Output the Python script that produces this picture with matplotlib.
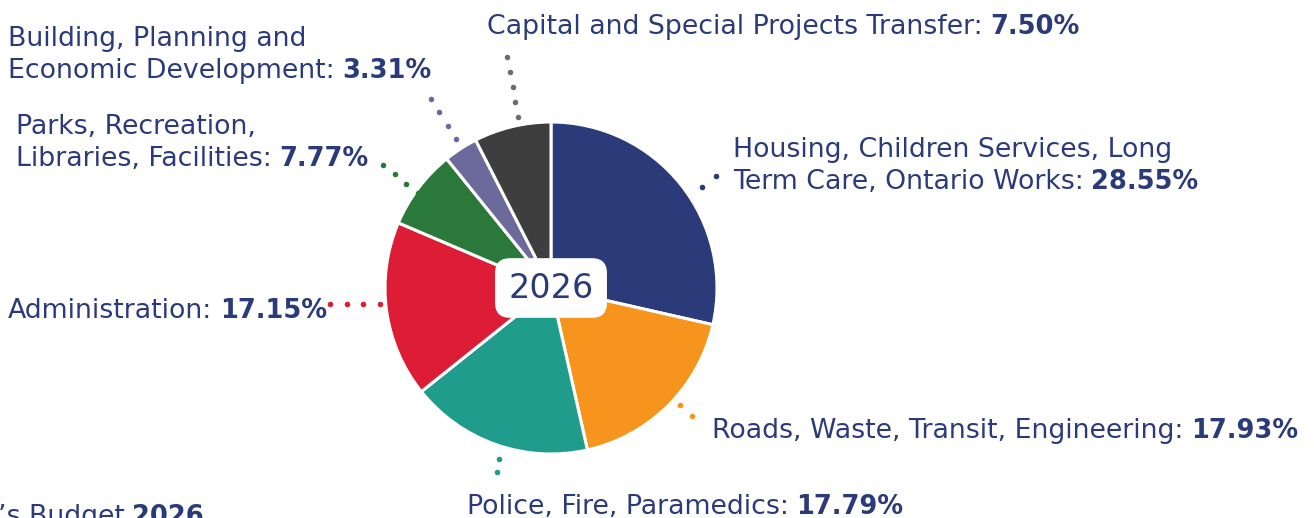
import matplotlib
matplotlib.use("Agg")
import matplotlib.pyplot as plt
import numpy as np

# budget shares, clockwise from 12 o'clock
categories = [
    "Housing, Children Services, Long\nTerm Care, Ontario Works",
    "Roads, Waste, Transit, Engineering",
    "Police, Fire, Paramedics",
    "Administration",
    "Parks, Recreation,\nLibraries, Facilities",
    "Building, Planning and\nEconomic Development",
    "Capital and Special Projects Transfer",
]
shares = [28.55, 17.93, 17.79, 17.15, 7.77, 3.31, 7.50]
pct_labels = ["28.55%", "17.93%", "17.79%", "17.15%", "7.77%", "3.31%", "7.50%"]
year_label = "2026"
footer_text = "\u2019s Budget"

colors = ["#2b3a78", "#f7941d", "#1f9c8c", "#dd1c35", "#2a793a", "#6c6a9a", "#3e3e3e"]
dot_colors = ["#2b3a78", "#f7941d", "#1f9c8c", "#dd1c35", "#2a793a", "#6c6a9a", "#6d6d6d"]
TEXT = "#2b3a78"

W, H = 1314, 518
FS = 19.3      # regular text
FS_B = 18.5    # bold percentages
LS = 32        # px between baselines

plt.rcParams["font.family"] = ["DejaVu Sans"]
fig = plt.figure(figsize=(W / 100, H / 100), dpi=100)
ax = fig.add_axes([0, 0, 1, 1])


def Y(y):
    return H - y


cx, cy, R = 551, 288, 166
ax.pie(shares, colors=colors, startangle=90, counterclock=False,
       center=(cx, Y(cy)), radius=R, frame=True,
       wedgeprops=dict(edgecolor="white", linewidth=2.2))
ax.set_xlim(0, W)
ax.set_ylim(0, H)
ax.set_aspect("equal")
ax.axis("off")

# label anchor (x, baseline of first line) and leader segment in pixels
label_pos = [(733, 157), (712, 438), (467, 514), (8, 318), (16, 134), (8, 46), (487, 34)]
leaders = [
    ((716, 176), (702, 187), 2),
    ((680, 405), (692, 416), 2),
    ((499, 459), (497, 472), 2),
    ((330, 304), (380, 304), 4),
    ((383, 165), (418, 193), 4),
    ((431, 99), (456, 139), 4),
    ((507, 57), (518, 117), 5),
]


def mixed(x, y, lines, bold, size=FS, bsize=FS_B):
    for i, ln in enumerate(lines[:-1]):
        ax.text(x, Y(y + i * LS), ln, fontsize=size, color=TEXT, va="baseline", ha="left")
    t = ax.text(x, Y(y + (len(lines) - 1) * LS), lines[-1], fontsize=size,
                color=TEXT, va="baseline", ha="left")
    ax.annotate(bold, xy=(1, 0), xycoords=t, xytext=(size * 0.28, 0),
                textcoords="offset points", fontsize=bsize, fontweight="bold",
                color=TEXT, va="bottom", ha="left")


for cat, pct, (lx, ly), col, (p0, p1, n) in zip(categories, pct_labels, label_pos,
                                                 dot_colors, leaders):
    mixed(lx, ly, (cat + ":").split("\n"), pct)
    xs = np.linspace(p0[0], p1[0], n)
    ys = np.linspace(Y(p0[1]), Y(p1[1]), n)
    ax.scatter(xs, ys, s=16, color=col, zorder=1, linewidths=0)

ax.text(cx, Y(cy), year_label, fontsize=24, color=TEXT, ha="center", va="center",
        bbox=dict(boxstyle="round,pad=0.4,rounding_size=0.45", fc="white", ec="none"),
        zorder=5)

# footer line, cut off at the bottom edge as in the source graphic
mixed(-2, 524, [footer_text], year_label)

fig.savefig("out.png", dpi=100)
